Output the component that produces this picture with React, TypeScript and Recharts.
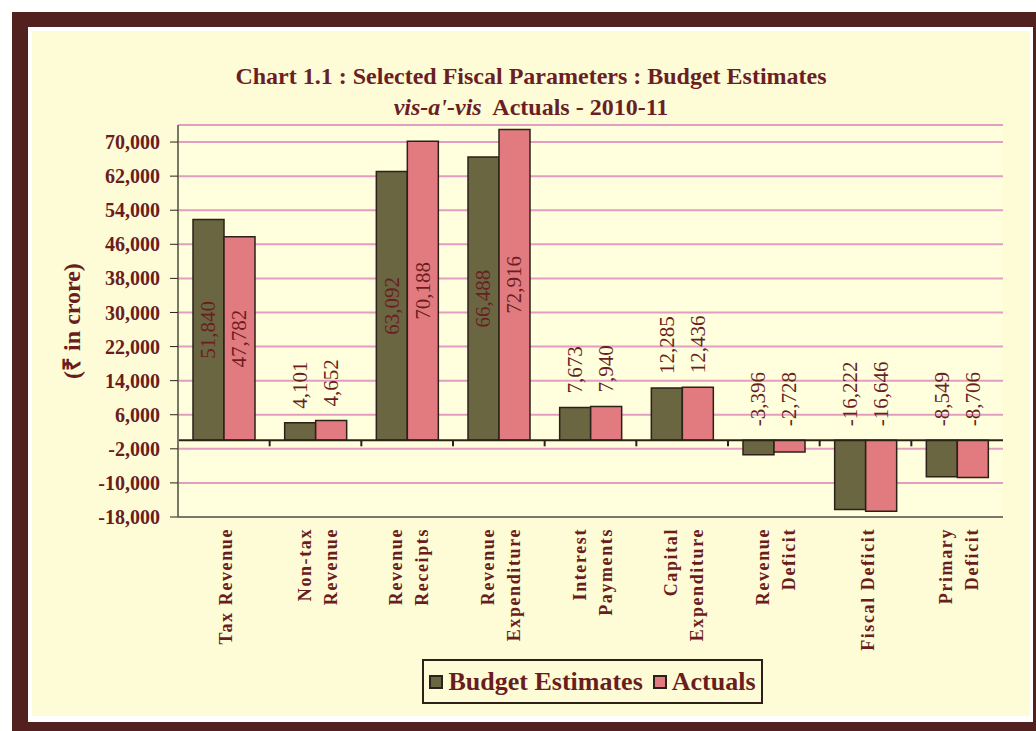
import React from 'react';
import { BarChart, Bar, XAxis, YAxis, CartesianGrid, ReferenceLine, LabelList, Legend } from 'recharts';

// Selected fiscal parameters, 2010-11 (Rs in crore)
const categories = [
    'Tax Revenue',
    'Non-tax\nRevenue',
    'Revenue\nReceipts',
    'Revenue\nExpenditure',
    'Interest\nPayments',
    'Capital\nExpenditure',
    'Revenue\nDeficit',
    'Fiscal Deficit',
    'Primary\nDeficit',
];
const seriesNames = ['Budget Estimates', 'Actuals'];
const budgetEstimates = [51840, 4101, 63092, 66488, 7673, 12285, -3396, -16222, -8549];
const actuals = [47782, 4652, 70188, 72916, 7940, 12436, -2728, -16646, -8706];
const yTicks = [-18000, -10000, -2000, 6000, 14000, 22000, 30000, 38000, 46000, 54000, 62000, 70000];

const chartData = categories.map((name, i) => ({ name, budget: budgetEstimates[i], actual: actuals[i] }));

const FONT = '"Liberation Serif", "Times New Roman", serif';
const TEXT = '#6a1c1e';
const FRAME = '#77776a';
const DARK = '#2b2118';

const CategoryTick = (props: any) => {
    const { x, y, payload } = props;
    const lines = String(payload.value).split('\n');
    const top = y + 3;
    return (
        <g>
            {lines.map((line, i) => {
                const lx = x + 2 + (i - (lines.length - 1) / 2) * 26;
                return (
                    <text key={i} x={lx} y={top} transform={`rotate(-90, ${lx}, ${top})`}
                        textAnchor="end" dominantBaseline="central" fill={TEXT}
                        fontFamily={FONT} fontWeight="bold" fontSize={18} letterSpacing={1.6}>
                        {line}
                    </text>
                );
            })}
        </g>
    );
};

const ValueLabel = (props: any) => {
    const vb = props.viewBox || {};
    const x = props.x ?? vb.x;
    const y = props.y ?? vb.y;
    const width = props.width ?? vb.width;
    const height = props.height ?? vb.height;
    const value = Number(props.value);
    const top = Math.min(y, y + height);
    const bottom = Math.max(y, y + height);
    const cx = x + width / 2;
    const big = Math.abs(value) > 30000;
    const ly = big ? (top + bottom) / 2 : top - 14;
    return (
        <text x={cx} y={ly} transform={`rotate(-90, ${cx}, ${ly})`}
            textAnchor={big ? 'middle' : 'start'} dominantBaseline="central"
            fill="#6a1e22" fontFamily={FONT} fontSize={21}>
            {value.toLocaleString('en-US')}
        </text>
    );
};

// zero line with small category ticks
const ZeroAxis = (props: any) => {
    const { x1, y1, x2 } = props;
    const step = (x2 - x1) / categories.length;
    return (
        <g>
            <line x1={x1} y1={y1} x2={x2} y2={y1} stroke={DARK} strokeWidth={2} />
            {categories.slice(1).map((_, i) => (
                <line key={i} x1={x1 + step * (i + 1)} x2={x1 + step * (i + 1)} y1={y1} y2={y1 + 6}
                    stroke={DARK} strokeWidth={2} />
            ))}
        </g>
    );
};

const YTitle = (props: any) => {
    const { x, y, height } = props.viewBox;
    const cx = x - 46;
    const cy = y + height / 2;
    return (
        <text x={cx} y={cy} transform={`rotate(-90, ${cx}, ${cy})`} textAnchor="middle"
            dominantBaseline="central" fill={TEXT} fontFamily={FONT} fontWeight="bold" fontSize={24}>
            (₹ in crore)
        </text>
    );
};

const LegendBox = (props: any) => {
    const items = [...(props.payload || [])].sort(
        (a: any, b: any) => seriesNames.indexOf(a.value) - seriesNames.indexOf(b.value));
    return (
        <div style={{
            boxSizing: 'border-box', width: 341, height: 45, border: `2px solid ${DARK}`,
            display: 'flex', alignItems: 'center', justifyContent: 'center', gap: 10,
            fontFamily: FONT, fontWeight: 'bold', fontSize: 26, color: TEXT,
        }}>
            {items.map((p: any) => (
                <span key={p.value} style={{ display: 'flex', alignItems: 'center', gap: 5 }}>
                    <span style={{ display: 'inline-block', width: 10, height: 10, background: p.color, border: `2px solid ${DARK}` }} />
                    {p.value}
                </span>
            ))}
        </div>
    );
};

export default function App() {
    return (
        <div style={{ position: 'absolute', left: 0, top: 0, width: 1036, height: 731, overflow: 'hidden', background: '#fff' }}>
            {/* scanned page frame */}
            <div style={{ position: 'absolute', left: 12, top: 12, width: 1060, height: 760, background: '#52201f' }} />
            <div style={{ position: 'absolute', left: 28, top: 27, width: 1005, height: 695, background: '#fff' }} />
            <div style={{ position: 'absolute', left: 32, top: 31, width: 998, height: 685, background: '#fdfcd6' }} />

            <div style={{
                position: 'absolute', left: 32, top: 61, width: 998, textAlign: 'center',
                fontFamily: FONT, fontWeight: 'bold', fontSize: 24, lineHeight: '31px', color: '#6b1f24',
            }}>
                <div>Chart 1.1 : Selected Fiscal Parameters : Budget Estimates</div>
                <div><i>vis-a'-vis</i>&nbsp; Actuals - 2010-11</div>
            </div>

            <div style={{ position: 'absolute', left: 0, top: 0 }}>
                <BarChart width={1036} height={731} data={chartData}
                    margin={{ top: 125, right: 33, bottom: 184, left: 118 }}
                    barCategoryGap={15} barGap={0}>
                    <CartesianGrid vertical={false} stroke="#e29dc1" strokeWidth={2} fill="#fffedd" />
                    <XAxis dataKey="name" interval={0} height={30} tickLine={false}
                        axisLine={{ stroke: FRAME, strokeWidth: 2 }} tick={<CategoryTick />} />
                    <XAxis xAxisId="top" orientation="top" dataKey="name" height={0} tick={false}
                        tickLine={false} axisLine={{ stroke: FRAME, strokeWidth: 2 }} />
                    <YAxis width={60} domain={[-18000, 74000]} ticks={yTicks} interval={0} allowDataOverflow
                        tickSize={8} tickMargin={10} tickFormatter={(v: number) => v.toLocaleString('en-US')}
                        tick={{ fill: TEXT, fontSize: 20, fontWeight: 'bold', fontFamily: FONT }}
                        axisLine={{ stroke: FRAME, strokeWidth: 2 }} tickLine={{ stroke: DARK }}
                        label={<YTitle />} />
                    <YAxis yAxisId="right" orientation="right" width={0} domain={[-18000, 74000]}
                        tick={false} tickLine={false} axisLine={{ stroke: FRAME, strokeWidth: 2 }} />
                    <Legend verticalAlign="middle" align="center" content={<LegendBox />}
                        wrapperStyle={{ left: 422, top: 659, width: 341, height: 45 }} />
                    <Bar dataKey="budget" name={seriesNames[0]} fill="#696641" stroke={DARK} strokeWidth={1.5}
                        isAnimationActive={false}>
                        <LabelList dataKey="budget" content={ValueLabel} />
                    </Bar>
                    <Bar dataKey="actual" name={seriesNames[1]} fill="#e27b7f" stroke={DARK} strokeWidth={1.5}
                        isAnimationActive={false}>
                        <LabelList dataKey="actual" content={ValueLabel} />
                    </Bar>
                    <ReferenceLine y={0} shape={ZeroAxis} />
                </BarChart>
            </div>
        </div>
    );
}
